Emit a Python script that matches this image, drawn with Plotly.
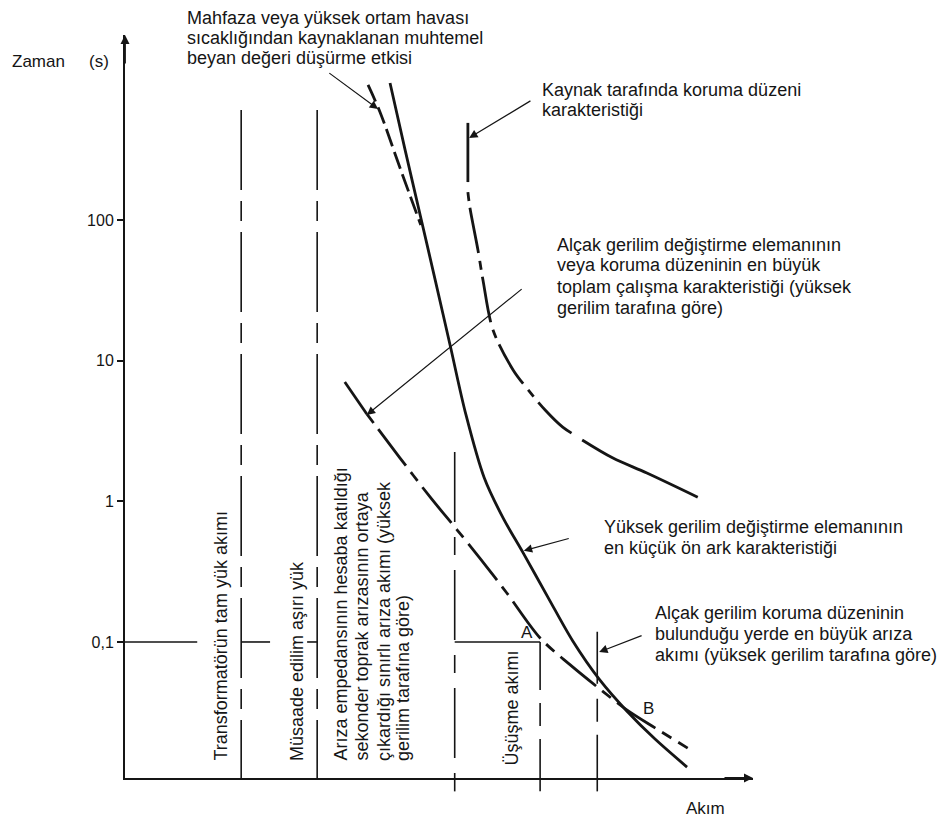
import numpy as np
import plotly.graph_objects as go

# ---------------- data ----------------
# y axis: time in seconds (log), x axis: current (relative units, no scale shown)
tick_vals = [0.1, 1, 10, 100]
tick_text = ["0,1", "1", "10", "100"]
y_range_log = [-1.967, 3.315]
x_range = [0, 10]

# HV switching element, minimum pre-arcing characteristic (solid)
hv_x = [4.22, 4.46, 4.70, 4.94, 5.18, 5.43, 5.72, 6.02, 6.34, 6.74, 7.13, 7.56, 7.99, 8.44, 8.95]
hv_t = [942, 315, 108.5, 37.4, 12.7, 4.11, 1.47, 0.762, 0.430, 0.206, 0.1016, 0.0537,
        0.0323, 0.0204, 0.0129]

# derating effect (dashed)
der_x = [3.87, 4.06, 4.38, 4.71]
der_t = [912, 586, 234, 92]

# LV switching / protective device, max total operating characteristic
lv_start_x = [3.50, 3.85]
lv_start_t = [7.05, 4.18]
lv_x = [3.85, 4.38, 4.86, 5.29, 5.65, 6.08, 6.61, 7.09, 7.52, 7.99, 8.44, 8.96]
lv_t = [4.18, 2.03, 1.07, 0.625, 0.395, 0.223, 0.1067, 0.0687, 0.0479, 0.0329, 0.0245, 0.0176]

# source-side protective device characteristic
src_top_x = [5.46, 5.46]
src_top_t = [490, 186]
src_mid_x = [5.46, 5.49, 5.62, 5.70, 5.86, 6.18, 6.42, 6.69, 6.97, 7.21]
src_mid_t = [158, 124, 61.2, 37.4, 16.5, 8.59, 6.19, 4.46, 3.37, 2.87]
src_end_x = [7.28, 7.77, 8.31, 9.12]
src_end_t = [2.73, 2.03, 1.59, 1.07]

# vertical reference currents
full_load_x = 1.85
overload_x = 3.06
guide_top_t = 605
earth_fault_x = 5.25
earth_fault_top_t = 2.24
point_a_x = 6.61
max_fault_x = 7.52
max_fault_top_t = 0.118
level_t = 0.1

# horizontal 0.1 s pieces (x start, x end)
level_segments = [(0.0, 1.15), (1.85, 2.31), (2.90, 3.06), (5.25, 6.61)]

# annotation arrows: (tail x, tail t, tip x, tip t)
arrow_pts = [
    (3.23, 1127, 4.03, 615),
    (6.48, 713, 5.48, 383),
    (6.34, 32.9, 3.85, 4.11),
    (7.09, 0.548, 6.35, 0.445),
    (8.25, 0.112, 7.55, 0.0849),
]

# texts
mahfaza_lines = ["Mahfaza veya yüksek ortam havası",
                 "sıcaklığından kaynaklanan muhtemel",
                 "beyan değeri düşürme etkisi"]
kaynak_lines = ["Kaynak tarafında koruma düzeni", "karakteristiği"]
alcak_deg_lines = ["Alçak gerilim değiştirme elemanının",
                   "veya koruma düzeninin en büyük",
                   "toplam çalışma karakteristiği (yüksek",
                   "gerilim tarafına göre)"]
yuksek_lines = ["Yüksek gerilim değiştirme elemanının",
                "en küçük ön ark karakteristiği"]
alcak_kor_lines = ["Alçak gerilim koruma düzeninin",
                   "bulunduğu yerde en büyük arıza",
                   "akımı (yüksek gerilim tarafına göre)"]
ariza_lines = ["Arıza empedansının hesaba katıldığı",
               "sekonder toprak arızasının ortaya",
               "çıkardığı sınırlı arıza akımı (yüksek",
               "gerilim tarafına göre)"]
rot_full_load = "Transformatörün tam yük akımı"
rot_overload = "Müsaade edilim aşırı yük"
rot_usume = "Üşüşme akımı"

# ---------------- styling ----------------
INK = "#151515"
FONT = "Liberation Sans, Arial, Helvetica, sans-serif"
y_bottom = 10 ** y_range_log[0]

fig = go.Figure()

def curve(x, y, dash="solid", width=2.8, shape="spline"):
    fig.add_trace(go.Scatter(x=x, y=y, mode="lines",
                             line=dict(color=INK, width=width, dash=dash, shape=shape,
                                       smoothing=0.9),
                             hoverinfo="skip", showlegend=False))

curve(hv_x, hv_t)
curve(der_x, der_t, dash="18px,6px")
curve(lv_start_x, lv_start_t, shape="linear")
curve(lv_x, lv_t, dash="11px,8px,46px,8px")
curve(src_top_x, src_top_t, shape="linear")
curve(src_mid_x, src_mid_t, dash="9px,7px,46px,8px")
curve(src_end_x, src_end_t)

guide_dash = "80px,11px,20px,11px"
for gx in (full_load_x, overload_x):
    curve([gx, gx], [guide_top_t, y_bottom], dash=guide_dash, width=1.6, shape="linear")
curve([earth_fault_x, earth_fault_x], [earth_fault_top_t, y_bottom],
      dash="70px,15px,18px,15px", width=1.6, shape="linear")
curve([point_a_x, point_a_x], [level_t, y_bottom], dash="48px,13px,23px,13px",
      width=1.6, shape="linear")
curve([max_fault_x, max_fault_x], [max_fault_top_t, y_bottom], dash="52px,15px,23px,13px",
      width=1.6, shape="linear")
for x0, x1 in level_segments:
    curve([x0, x1], [level_t, level_t], width=1.6, shape="linear")

# short stubs of the vertical lines below the current axis
shapes = []
for gx in (earth_fault_x, point_a_x, max_fault_x):
    shapes.append(dict(type="line", xref="x", yref="paper", x0=gx, x1=gx, y0=0, y1=-0.018,
                       line=dict(color=INK, width=1.6)))

ann = []
for tx, tt, hx, ht in arrow_pts:
    ann.append(dict(x=hx, y=np.log10(ht), ax=tx, ay=np.log10(tt), xref="x", yref="y",
                    axref="x", ayref="y", text="", showarrow=True, arrowhead=2,
                    arrowsize=1.4, arrowwidth=1.2, arrowcolor=INK, standoff=0,
                    startstandoff=0))

# axis arrows
ann.append(dict(x=0, y=1, xref="paper", yref="paper", ax=0, ay=30, text="", showarrow=True,
                arrowhead=2, arrowsize=1, arrowwidth=1.8, arrowcolor=INK))
ann.append(dict(x=1, y=0, xref="paper", yref="paper", ax=-30, ay=0, text="", showarrow=True,
                arrowhead=2, arrowsize=1, arrowwidth=1.8, arrowcolor=INK))

def text_block(lines, x, ys, size=18):
    for line, yy in zip(lines, ys):
        ann.append(dict(x=x, y=yy, xref="paper", yref="paper", text=line, showarrow=False,
                        xanchor="left", yanchor="middle",
                        font=dict(family=FONT, size=size, color=INK)))

text_block(mahfaza_lines, 0.0955, [1.0229, 0.9960, 0.9690])
text_block(kaynak_lines, 0.661, [0.926, 0.899])
text_block(alcak_deg_lines, 0.685, [0.7174, 0.6904, 0.6608, 0.6326])
text_block(yuksek_lines, 0.7596, [0.3378, 0.3096])
text_block(alcak_kor_lines, 0.8408, [0.2221, 0.1938, 0.1655])

def label(text, x, y, size=17, xanchor="center"):
    ann.append(dict(x=x, y=y, xref="paper", yref="paper", text=text, showarrow=False,
                    xanchor=xanchor, yanchor="middle",
                    font=dict(family=FONT, size=size, color=INK)))

label("Zaman", -0.137, 0.9637)
label("(s)", -0.0414, 0.9637)
label("Akım", 0.9236, -0.0404)
label("A", 0.640, 0.1965, size=17)
label("B", 0.834, 0.0929, size=17)

def rot(text, x, y, size=18):
    ann.append(dict(x=x, y=y, xref="paper", yref="paper", text=text, showarrow=False,
                    textangle=-90, xanchor="center", yanchor="bottom",
                    font=dict(family=FONT, size=size, color=INK)))

rot(rot_full_load, 0.1529, 0.0202)
rot(rot_overload, 0.2739, 0.0202)
for line, xx in zip(ariza_lines, [0.344, 0.3774, 0.4124, 0.4427]):
    rot(line, xx, 0.0202)
rot(rot_usume, 0.6162, 0.0148)

# the page adds an 8 px body margin, so the margins are reduced by 8 px
fig.update_layout(
    width=948, height=823, autosize=False,
    margin=dict(l=117, r=203, t=27, b=53),
    paper_bgcolor="white", plot_bgcolor="white",
    showlegend=False,
    xaxis=dict(range=x_range, showline=True, linecolor=INK, linewidth=2,
               showgrid=False, zeroline=False, showticklabels=False, ticks=""),
    yaxis=dict(type="log", range=y_range_log, showline=True, linecolor=INK, linewidth=2,
               showgrid=False, zeroline=False, ticks="outside", ticklen=6, tickwidth=1.5,
               tickcolor=INK, tickvals=tick_vals, ticktext=tick_text,
               tickfont=dict(family=FONT, size=16, color=INK)),
    shapes=shapes,
    annotations=ann,
)

fig.write_html("out.html")
